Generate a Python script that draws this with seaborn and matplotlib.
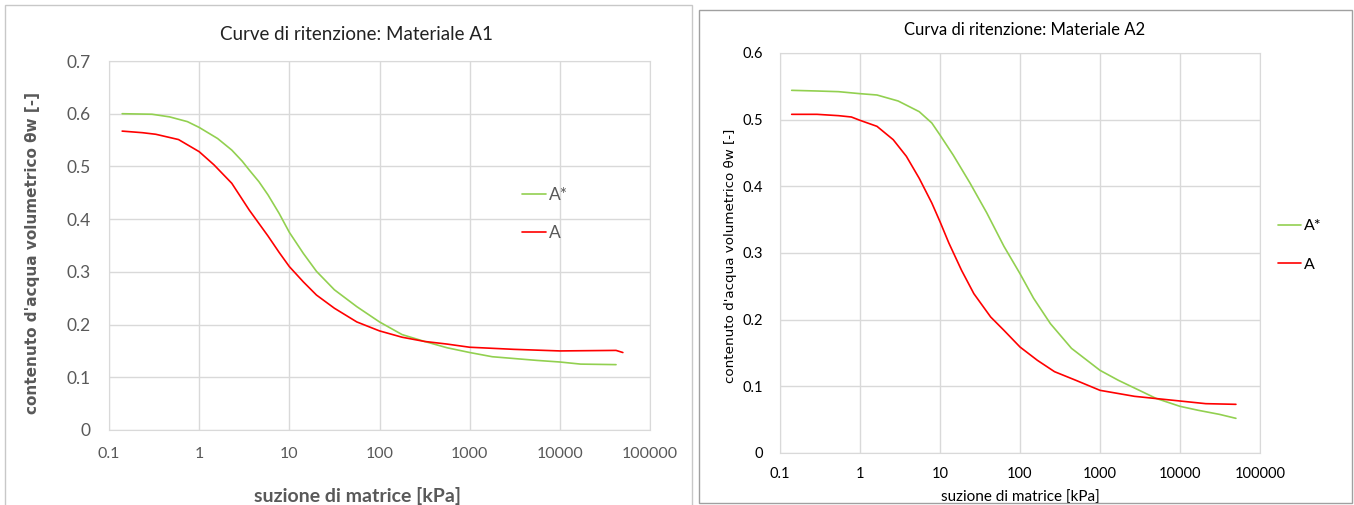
import numpy as np
import pandas as pd
import matplotlib
matplotlib.use("Agg")
import matplotlib.pyplot as plt
from matplotlib.patches import Rectangle
import seaborn as sns

# dati - Materiale A1
a1_star_x = [0.14, 0.3, 0.47, 0.74, 1, 1.6, 2.3, 3.0, 3.6, 4.6, 5.8, 7.7, 10, 14.3, 20, 31.6, 56,
             100, 178, 316, 562, 1000, 1778, 5600, 10000, 17000, 42000]
a1_star_y = [0.600, 0.599, 0.594, 0.585, 0.574, 0.553, 0.531, 0.510, 0.493, 0.471, 0.446, 0.411,
             0.375, 0.335, 0.301, 0.266, 0.234, 0.205, 0.181, 0.168, 0.156, 0.147, 0.139, 0.132,
             0.129, 0.125, 0.124]
a1_x = [0.14, 0.235, 0.33, 0.59, 1, 1.46, 2.3, 3.6, 5.8, 7.7, 10, 14.3, 20, 31.6, 56, 100, 178,
        316, 562, 1000, 3100, 10000, 42000, 50000]
a1_y = [0.567, 0.564, 0.561, 0.551, 0.528, 0.503, 0.468, 0.417, 0.368, 0.337, 0.310, 0.281,
        0.256, 0.231, 0.205, 0.188, 0.176, 0.168, 0.163, 0.157, 0.153, 0.150, 0.151, 0.147]

# Materiale A2
a2_star_x = [0.14, 0.29, 0.54, 1, 1.63, 3.0, 5.5, 7.9, 10, 14.6, 23.7, 38.5, 63, 100, 148, 240,
             440, 1000, 1700, 3100, 5000, 10000, 17000, 31000, 50000]
a2_star_y = [0.544, 0.543, 0.542, 0.539, 0.537, 0.528, 0.512, 0.495, 0.477, 0.447, 0.405, 0.360,
             0.310, 0.269, 0.232, 0.194, 0.157, 0.124, 0.109, 0.094, 0.082, 0.070, 0.064, 0.058,
             0.052]
a2_x = [0.14, 0.29, 0.54, 0.78, 1, 1.63, 2.6, 3.8, 5.5, 7.9, 10, 12.9, 18.6, 26.5, 43, 63, 100,
        165, 270, 500, 1000, 2700, 10000, 21000, 50000]
a2_y = [0.508, 0.508, 0.506, 0.504, 0.499, 0.490, 0.470, 0.445, 0.412, 0.375, 0.347, 0.315,
        0.274, 0.239, 0.204, 0.184, 0.159, 0.139, 0.122, 0.109, 0.094, 0.085, 0.078, 0.074, 0.073]

x_ticks = [0.1, 1, 10, 100, 1000, 10000, 100000]
x_tick_labels = ["0.1", "1", "10", "100", "1000", "10000", "100000"]

colori = {"A*": "#92d050", "A": "#ff0000"}

sns.set_style("white")
plt.rcParams["font.family"] = ["Lato", "DejaVu Sans"]

W, H = 1354, 505
fig = plt.figure(figsize=(W / 100, H / 100), dpi=100)


def px_axes(x0, y0, x1, y1):
    return fig.add_axes([x0 / W, 1 - y1 / H, (x1 - x0) / W, (y1 - y0) / H])


def disegna(ax, xs, ys, ymax, col_testo, fs_tick):
    df = pd.concat([
        pd.DataFrame({"suzione": xs[0], "theta": ys[0], "serie": "A*"}),
        pd.DataFrame({"suzione": xs[1], "theta": ys[1], "serie": "A"}),
    ])
    sns.lineplot(data=df, x="suzione", y="theta", hue="serie", palette=colori,
                 estimator=None, sort=False, linewidth=1.2, ax=ax)
    ax.set_xscale("log")
    ax.set_xlim(0.1, 100000)
    ax.set_ylim(0, ymax)
    ax.set_xticks(x_ticks)
    ax.set_xticklabels(x_tick_labels)
    ax.xaxis.set_minor_locator(matplotlib.ticker.NullLocator())
    yt = np.round(np.arange(0, ymax + 0.01, 0.1), 1)
    ax.set_yticks(yt)
    ax.set_yticklabels([f"{v:g}" for v in yt])
    ax.grid(True, color="#d9d9d9", linewidth=1)
    for s in ax.spines.values():
        s.set_color("#d9d9d9")
    ax.tick_params(length=0, labelsize=fs_tick, colors=col_testo)


# pannello sinistro
ax1 = px_axes(109, 61, 650, 430)
disegna(ax1, [a1_star_x, a1_x], [a1_star_y, a1_y], 0.7, "#595959", 11.5)
ax1.tick_params(axis="x", pad=12)
ax1.tick_params(axis="y", pad=13)
ax1.tick_params(axis="y", labelsize=12.5)
ax1.set_title("Curve di ritenzione: Materiale A1", fontsize=13.5, color="#222222", pad=15,
              x=0.457)
ax1.set_xlabel("suzione di matrice [kPa]", fontsize=14, fontweight="bold", color="#595959")
ax1.xaxis.set_label_coords(0.459, -0.155)
ax1.set_ylabel("contenuto d'acqua volumetrico θw [-]", fontsize=11, fontweight="bold",
               color="#595959", family="DejaVu Sans")
ax1.yaxis.set_label_coords(-0.127, 0.48)
ax1.legend(loc="center left", bbox_to_anchor=(0.763, 0.585), frameon=False, fontsize=12.5,
           handlelength=1.4, handletextpad=0.15, labelspacing=1.3, borderpad=0,
           borderaxespad=0, labelcolor="#595959")

# pannello destro
ax2 = px_axes(780, 53, 1260, 453)
disegna(ax2, [a2_star_x, a2_x], [a2_star_y, a2_y], 0.6, "black", 10.5)
ax2.tick_params(axis="x", pad=10)
ax2.tick_params(axis="y", pad=12)
ax2.set_title("Curva di ritenzione: Materiale A2", fontsize=12, color="black", pad=13, x=0.51)
ax2.set_xlabel("suzione di matrice [kPa]", fontsize=11, color="black")
ax2.xaxis.set_label_coords(0.5, -0.095)
ax2.set_ylabel("contenuto d'acqua volumetrico θw [-]", fontsize=9.7, color="black",
               family="DejaVu Sans")
ax2.yaxis.set_label_coords(-0.09, 0.494)
ax2.legend(loc="center left", bbox_to_anchor=(1.0375, 0.519), frameon=False, fontsize=11.5,
           handlelength=1.45, handletextpad=0.15, labelspacing=1.5, borderpad=0,
           borderaxespad=0, labelcolor="black")

# cornici dei due grafici
fig.patches.append(Rectangle((5 / W, -0.05), 687 / W, 1.05 - 5 / H, transform=fig.transFigure,
                             fill=False, edgecolor="#c8c8c8", linewidth=1))
fig.patches.append(Rectangle((699 / W, 1 - 503 / H), 653 / W, 493 / H, transform=fig.transFigure,
                             fill=False, edgecolor="#a0a0a0", linewidth=1))

fig.savefig("out.png", dpi=100)
